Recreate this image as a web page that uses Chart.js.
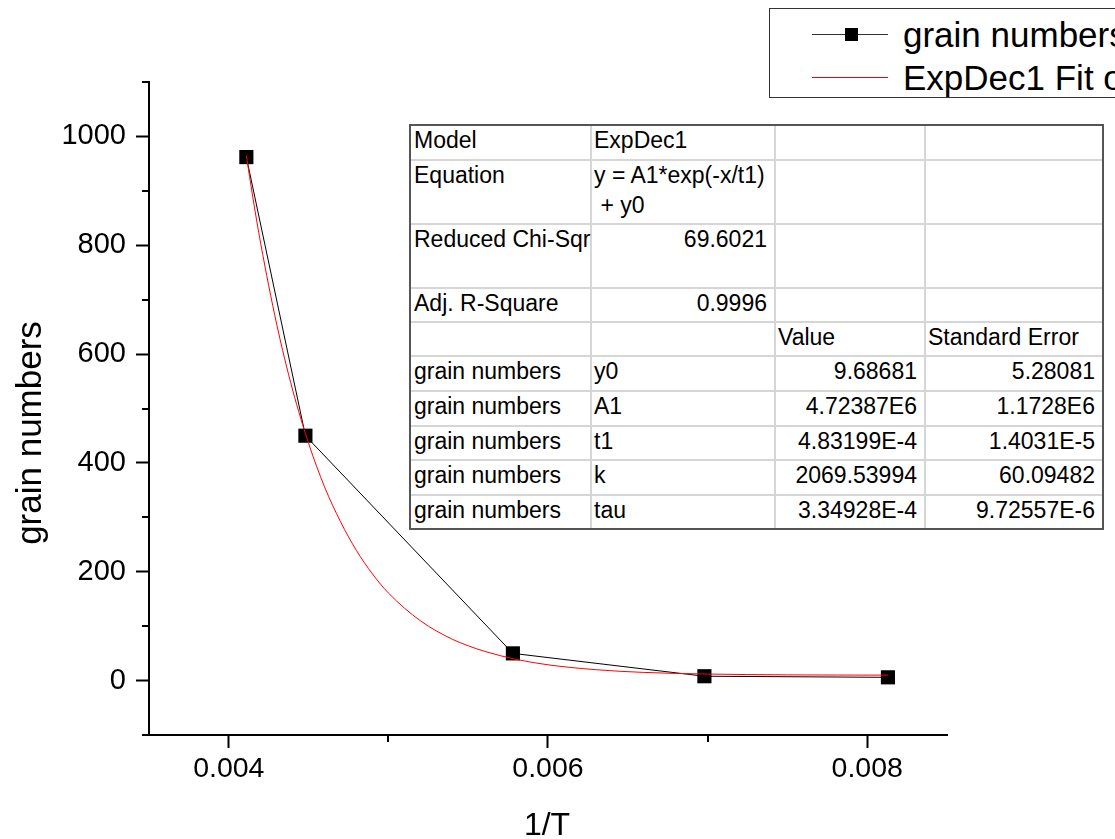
<!DOCTYPE html>
<html><head><meta charset="utf-8">
<script src="https://cdn.jsdelivr.net/npm/chart.js@4/dist/chart.umd.min.js"></script>
<style>
html,body{margin:0;padding:0;background:#fff;overflow:hidden;}
#wrap{position:relative;width:1115px;height:839px;overflow:hidden;font-family:"Liberation Sans",Arial,sans-serif;color:#000;}
#c{position:absolute;left:0;top:0;}
#legend{position:absolute;left:769px;top:8px;width:420px;height:88px;border:1px solid #333;background:#fff;}
.lg-item{position:absolute;left:0;height:40px;width:420px;}
.lg-text{position:absolute;left:133px;font-size:35px;line-height:40px;white-space:nowrap;}
#table{position:absolute;background:#fff;box-sizing:border-box;border:2px solid #555;}
.tl{position:absolute;background:#d6d6d6;}
.cell{position:absolute;font-size:23px;line-height:30px;white-space:pre;overflow:visible;}
</style></head>
<body>
<div id="wrap">
<canvas id="c" width="1115" height="839"></canvas>
<div id="legend"></div>
<div id="tablebox"></div>
</div>
<script>
// ---- data ----
const xValues = [0.00411, 0.00448, 0.00578, 0.00698, 0.00813];
const grainNumbers = [962, 450, 50, 8, 6];
const fitX = [0.00411, 0.00415, 0.0042, 0.0043, 0.0044, 0.0045, 0.0046, 0.0047, 0.0048, 0.0049, 0.0050, 0.0052, 0.0054, 0.0055, 0.0056, 0.0058, 0.0060, 0.0063, 0.0066, 0.0070, 0.0075, 0.00813];
const fitY = [965, 889, 803, 655, 534, 436, 356, 292, 239, 196, 161, 110, 76, 64, 54, 39, 29, 20, 15, 12, 10.5, 10];
const xTickValues = [0.004, 0.006, 0.008];
const xMinorTicks = [0.005, 0.007];
const yTickValues = [0, 200, 400, 600, 800, 1000];
const yMinorTicks = [-100, 100, 300, 500, 700, 900, 1100];
const xTitle = '1/T';
const yTitle = 'grain numbers';
const legendLabels = ['grain numbers', 'ExpDec1 Fit of grain numbers'];
const tableRows = [
  ['Model', 'ExpDec1', '', ''],
  ['Equation', 'y = A1*exp(-x/t1)\n\u00a0+ y0', '', ''],
  ['Reduced Chi-Sqr', '69.6021', '', ''],
  ['Adj. R-Square', '0.9996', '', ''],
  ['', '', 'Value', 'Standard Error'],
  ['grain numbers', 'y0', '9.68681', '5.28081'],
  ['grain numbers', 'A1', '4.72387E6', '1.1728E6'],
  ['grain numbers', 't1', '4.83199E-4', '1.4031E-5'],
  ['grain numbers', 'k', '2069.53994', '60.09482'],
  ['grain numbers', 'tau', '3.34928E-4', '9.72557E-6']
];

// ---- layout ----
const colEdges = [410, 591, 775, 925, 1103];
const rowEdges = [125, 160, 224, 288, 322, 356, 391, 426, 460, 495, 529];

// table
(function(){
  const box = document.getElementById('tablebox');
  const t = document.createElement('div');
  t.id = 'table';
  const L = colEdges[0]-1, T = rowEdges[0]-1;
  t.style.left = L+'px'; t.style.top = T+'px';
  t.style.width = (colEdges[colEdges.length-1]-L+1)+'px';
  t.style.height = (rowEdges[rowEdges.length-1]-T+1)+'px';
  box.appendChild(t);
  for (let i=1;i<colEdges.length-1;i++){
    const d=document.createElement('div'); d.className='tl';
    d.style.left=(colEdges[i]-L-3)+'px'; d.style.top='0px'; d.style.width='2px'; d.style.height=(rowEdges[rowEdges.length-1]-T-3)+'px';
    t.appendChild(d);
  }
  for (let j=1;j<rowEdges.length-1;j++){
    const d=document.createElement('div'); d.className='tl';
    d.style.top=(rowEdges[j]-T-3)+'px'; d.style.left='0px'; d.style.height='2px'; d.style.width=(colEdges[colEdges.length-1]-L-3)+'px';
    t.appendChild(d);
  }
  const isNum = s => /^-?[\d.]+(E-?\d+)?$/.test(s);
  tableRows.forEach((row, r) => {
    row.forEach((txt, c) => {
      if (!txt) return;
      const d=document.createElement('div'); d.className='cell';
      d.textContent = txt;
      const num = isNum(txt);
      const padL = c===0 ? 4 : 3, padR = 8;
      d.style.left=(colEdges[c]-L-2+padL)+'px';
      d.style.width=(colEdges[c+1]-colEdges[c]-padL-padR)+'px';
      d.style.top=(rowEdges[r]-T-2)+'px';
      d.style.textAlign = num ? 'right' : 'left';
      t.appendChild(d);
    });
  });
})();

// legend
(function(){
  const lg = document.getElementById('legend');
  const ys = [34, 77];
  legendLabels.forEach((lab, i) => {
    const it = document.createElement('div'); it.className='lg-item';
    it.style.top = (ys[i]-20-9)+'px';
    const cv = document.createElement('canvas'); cv.width=130; cv.height=40;
    cv.style.position='absolute'; cv.style.left='0px'; cv.style.top='0px';
    const cx = cv.getContext('2d');
    cx.lineWidth = 1;
    if (i===0){
      cx.strokeStyle='#333'; cx.beginPath(); cx.moveTo(42,20.5); cx.lineTo(118,20.5); cx.stroke();
      cx.fillStyle='#000'; cx.fillRect(75,14,13,13);
    } else {
      cx.strokeStyle='#ff0000'; cx.beginPath(); cx.moveTo(42,20.5); cx.lineTo(118,20.5); cx.stroke();
    }
    it.appendChild(cv);
    const tx = document.createElement('div'); tx.className='lg-text'; tx.textContent = lab;
    tx.style.top='1px';
    it.appendChild(tx);
    lg.appendChild(it);
  });
})();

const FONT = "'Liberation Sans', Arial, sans-serif";

// minor ticks + axis titles plugin
const extras = {
  id: 'extras',
  afterDraw(chart){
    const ctx = chart.ctx, xs = chart.scales.x, ys = chart.scales.y;
    ctx.save(); ctx.strokeStyle='#000'; ctx.lineWidth=2;
    ctx.beginPath();
    xMinorTicks.forEach(v => { const p = Math.round(xs.getPixelForValue(v)); ctx.moveTo(p, xs.top); ctx.lineTo(p, xs.top+7); });
    yMinorTicks.forEach(v => { const p = Math.round(ys.getPixelForValue(v)); ctx.moveTo(ys.right, p); ctx.lineTo(ys.right-7, p); });
    ctx.stroke();
    ctx.fillStyle = '#000';
    ctx.textAlign = 'center'; ctx.textBaseline = 'middle';
    ctx.font = '32px ' + FONT;
    ctx.fillText(xTitle, 547, 826);
    ctx.translate(31, 433); ctx.rotate(-Math.PI/2);
    ctx.font = '35px ' + FONT;
    ctx.fillText(yTitle, 0, 0);
    ctx.restore();
  }
};

new Chart(document.getElementById('c'), {
  type: 'scatter',
  data: {
    datasets: [
      {
        label: legendLabels[1],
        data: fitX.map((x,i)=>({x:x, y:fitY[i]})),
        showLine: true, borderColor: '#ff0000', borderWidth: 1,
        pointRadius: 0, cubicInterpolationMode: 'monotone', order: 0
      },
      {
        label: legendLabels[0],
        data: xValues.map((x,i)=>({x:x, y:grainNumbers[i]})),
        showLine: true, borderColor: '#000', borderWidth: 1, tension: 0,
        pointStyle: 'rect', pointRadius: 10, pointBackgroundColor: '#000', pointBorderWidth: 0,
        order: 1
      }
    ]
  },
  options: {
    responsive: false, animation: false, devicePixelRatio: 1,
    layout: { padding: { left: 0, top: 82, right: 168, bottom: 0 } },
    plugins: { legend: { display: false }, tooltip: { enabled: false } },
    scales: {
      x: {
        type: 'linear', min: 0.0035, max: 0.0085,
        afterBuildTicks: s => { s.ticks = xTickValues.map(v => ({ value: v })); },
        afterFit: s => { s.height = 104; },
        ticks: { callback: v => v.toFixed(3), font: { family: FONT, size: 28.5 }, color: '#000', padding: 4, maxRotation: 0, autoSkip: false },
        grid: { drawOnChartArea: false, drawTicks: true, tickLength: 13, tickWidth: 2, tickColor: '#000' },
        border: { display: true, color: '#000', width: 2 },
        title: { display: false }
      },
      y: {
        type: 'linear', min: -100, max: 1100,
        afterBuildTicks: s => { s.ticks = yTickValues.map(v => ({ value: v })); },
        afterFit: s => { s.width = 149; },
        ticks: { callback: v => String(v), font: { family: FONT, size: 29 }, color: '#000', padding: 10, autoSkip: false },
        grid: { drawOnChartArea: false, drawTicks: true, tickLength: 13, tickWidth: 2, tickColor: '#000' },
        border: { display: true, color: '#000', width: 2 },
        title: { display: false }
      }
    }
  },
  plugins: [extras]
});
</script>
</body></html>
